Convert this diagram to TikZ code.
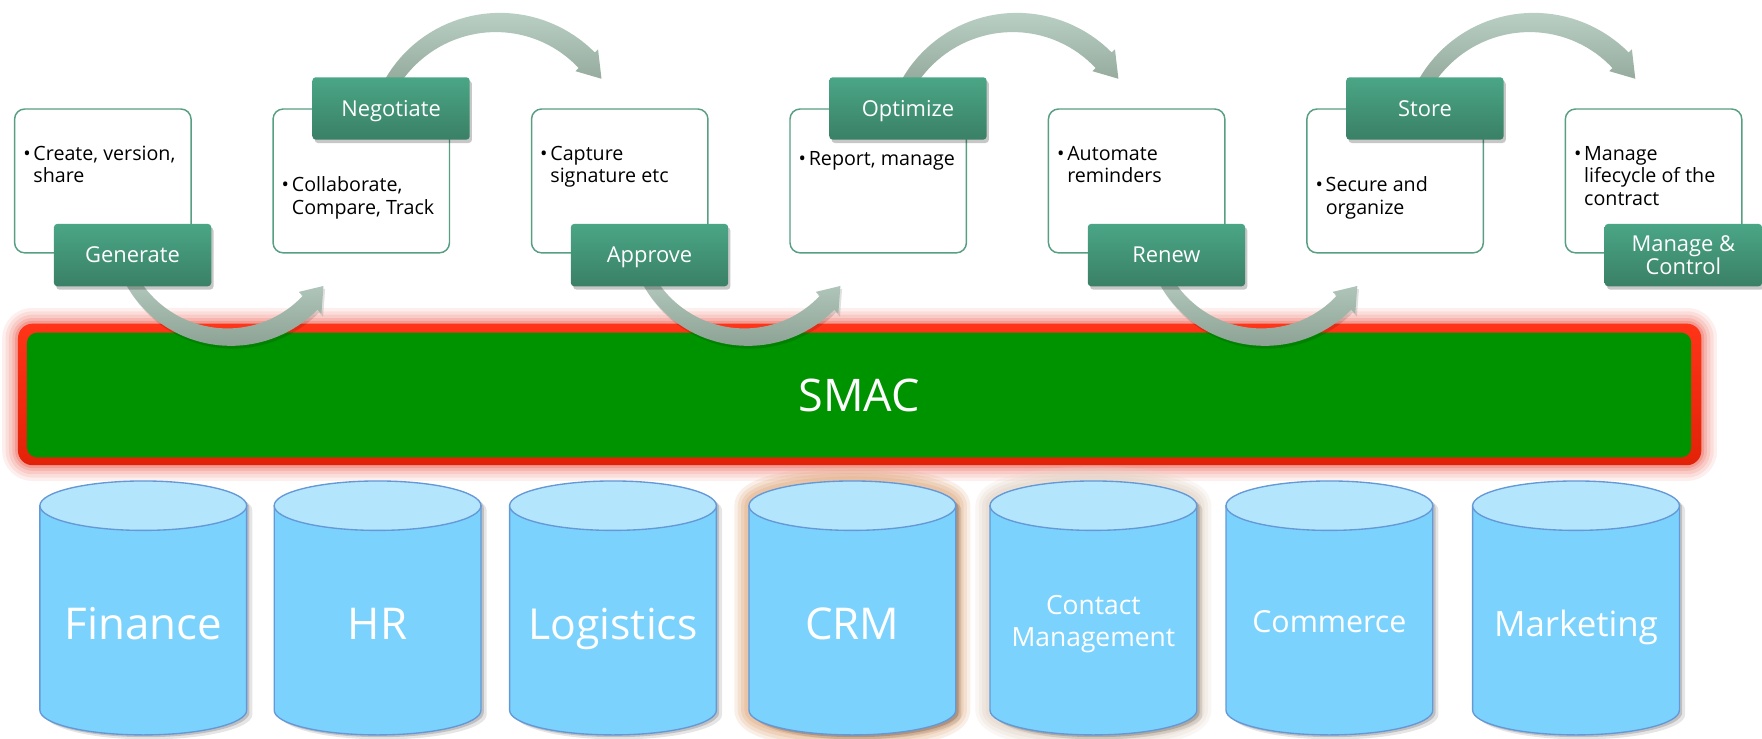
\documentclass[tikz,border=0pt]{standalone}
\usepackage{fontspec}
\setmainfont{Open Sans}
\usetikzlibrary{shadows}

\definecolor{boxline}{RGB}{88,158,130}
\definecolor{tagtop}{RGB}{74,166,134}
\definecolor{tagbot}{RGB}{58,128,102}
\definecolor{arrowlight}{RGB}{186,207,196}
\definecolor{arrowdark}{RGB}{140,162,148}
\definecolor{smacgreen}{RGB}{0,147,0}
\definecolor{smacredtop}{RGB}{255,52,24}
\definecolor{smacredbot}{RGB}{226,34,8}
\definecolor{redglow}{RGB}{236,96,82}
\definecolor{cylbody}{RGB}{123,211,253}
\definecolor{cyltop}{RGB}{179,229,252}
\definecolor{cylline}{RGB}{100,152,215}
\definecolor{crmglow}{RGB}{226,176,136}
\definecolor{contglow}{RGB}{226,212,198}

% lower swoop: from a bottom tag down and up to the next card
\newcommand\swoopdown[1]{%
  \begin{scope}[shift={(#1,-200)}]
    \fill[black,opacity=0.12,shift={(1.5,-2.5)}]
      plot[domain=205:316,samples=40] ({(100+6+3*(\x-205)/111)*cos(\x)},{(100+6+3*(\x-205)/111)*sin(\x)})
      -- (316:114) -- (327:100) -- (316:86)
      -- plot[domain=316:205,samples=40] ({(100-6-3*(\x-205)/111)*cos(\x)},{(100-6-3*(\x-205)/111)*sin(\x)}) -- cycle;
    \shade[top color=arrowlight,bottom color=arrowdark]
      plot[domain=205:316,samples=40] ({(100+6+3*(\x-205)/111)*cos(\x)},{(100+6+3*(\x-205)/111)*sin(\x)})
      -- (316:114) -- (327:100) -- (316:86)
      -- plot[domain=316:205,samples=40] ({(100-6-3*(\x-205)/111)*cos(\x)},{(100-6-3*(\x-205)/111)*sin(\x)}) -- cycle;
  \end{scope}}

% upper swoop: from a top tag over to the next card
\newcommand\swoopup[1]{%
  \begin{scope}[shift={(#1,-130)}]
    \shade[top color=arrowlight,bottom color=arrowdark]
      plot[domain=155:44,samples=40] ({(110+6.5+3.5*(155-\x)/111)*cos(\x)},{(110+6.5+3.5*(155-\x)/111)*sin(\x)})
      -- (44:124) -- (33:110) -- (44:96)
      -- plot[domain=44:155,samples=40] ({(110-6.5-3.5*(155-\x)/111)*cos(\x)},{(110-6.5-3.5*(155-\x)/111)*sin(\x)}) -- cycle;
  \end{scope}}

% soft halo round a cylinder
\newcommand\cylglow[2]{%
  \foreach \w/\o in {26/0.2,20/0.24,14/0.3,8/0.4}
    \draw[#2,line width=\w pt,opacity=\o,line join=round]
      (#1-92,-450) -- (#1-92,-632) arc[start angle=180,end angle=360,x radius=92,y radius=22]
      -- (#1+92,-450) arc[start angle=0,end angle=180,x radius=92,y radius=22] -- cycle;}

% database cylinder centred at x = #1
\newcommand\dbcyl[1]{%
  \foreach \dx/\dy/\o in {5/-4/0.10,2.5/-2/0.16}{
    \fill[black,opacity=\o] (#1-92+\dx,-450+\dy) -- (#1-92+\dx,-632+\dy)
      arc[start angle=180,end angle=360,x radius=92,y radius=22]
      -- (#1+92+\dx,-450+\dy) arc[start angle=0,end angle=180,x radius=92,y radius=22] -- cycle;}
  \filldraw[fill=cylbody,draw=cylline,line width=1.2pt] (#1-92,-450) -- (#1-92,-632)
    arc[start angle=180,end angle=360,x radius=92,y radius=22] -- (#1+92,-450) -- cycle;
  \filldraw[fill=cyltop,draw=cylline,line width=1.2pt] (#1,-450) ellipse[x radius=92,y radius=22];}

\begin{document}
\begin{tikzpicture}[x=1pt,y=1pt,
  card/.style={draw=boxline,line width=1.3pt,fill=white,rounded corners=9pt,
    minimum width=157pt,minimum height=128pt,inner sep=0pt},
  tag/.style={rectangle,rounded corners=3pt,minimum width=140pt,minimum height=55.5pt,
    inner sep=0pt,top color=tagtop,bottom color=tagbot,text=white,
    font=\fontsize{19.5}{21}\selectfont,text height=14pt,text depth=0pt,
    drop shadow={shadow xshift=2pt,shadow yshift=-3pt,opacity=0.22,fill=black}},
  cardtext/.style={anchor=base west,inner sep=0pt,font=\fontsize{17.5}{20}\selectfont,text=black},
  cyllabel/.style={anchor=base,inner sep=0pt,text=white},
]
\useasboundingbox (0,0) rectangle (1568,-657);

% SMAC platform bar with its red frame and glow
\foreach \w/\o in {28/0.10,22/0.12,16/0.15,10/0.2,5/0.3}
  \draw[redglow,line width=\w pt,opacity=\o,rounded corners=13pt] (16,-288) rectangle (1514,-414);
\shade[top color=smacredtop,bottom color=smacredbot,rounded corners=13pt] (16,-288) rectangle (1514,-414);
\node[fill=smacgreen,rounded corners=9pt,minimum width=1481pt,minimum height=111pt,inner sep=0pt,
  text=white,font=\fontsize{40}{44}\selectfont,text height=29pt,text depth=0pt]
  (smac) at (764.5,-351.5) {SMAC};

% curved process arrows
\swoopdown{204}
\swoopdown{664}
\swoopdown{1124}
\swoopup{443}
\swoopup{903}
\swoopup{1363}

% stage cards
\foreach \i/\nm in {0/cgen,1/cneg,2/capp,3/copt,4/cren,5/csto,6/cman}
  \node[card] (\nm) at (91.5+230*\i,-161) {};

% stage tags
\node[tag] (generate) at (118,-227) {Generate};
\node[tag] (negotiate) at (348,-96.5) {Negotiate};
\node[tag] (approve) at (578,-227) {Approve};
\node[tag] (optimize) at (808,-96.5) {Optimize};
\node[tag] (renew) at (1038,-227) {Renew};
\node[tag] (store) at (1268,-96.5) {Store};
\node[tag,text height=35.3pt] (manage) at (1498,-227)
  {\begin{tabular}[b]{@{}c@{}}Manage \&\\Control\end{tabular}};

% card contents
\node[cardtext] (tgen) at (20.5,-142.5)
  {\begin{tabular}[t]{@{}l@{\hspace{2.5pt}}l@{}}\textbullet&Create, version,\\&share\end{tabular}};
\node[cardtext] (tneg) at (250.5,-170.5)
  {\begin{tabular}[t]{@{}l@{\hspace{2.5pt}}l@{}}\textbullet&Collaborate,\\&Compare, Track\end{tabular}};
\node[cardtext] (tapp) at (480.5,-142.5)
  {\begin{tabular}[t]{@{}l@{\hspace{2.5pt}}l@{}}\textbullet&Capture\\&signature etc\end{tabular}};
\node[cardtext] (topt) at (710.5,-147.5)
  {\begin{tabular}[t]{@{}l@{\hspace{2.5pt}}l@{}}\textbullet&Report, manage\end{tabular}};
\node[cardtext] (tren) at (940.5,-142.5)
  {\begin{tabular}[t]{@{}l@{\hspace{2.5pt}}l@{}}\textbullet&Automate\\&reminders\end{tabular}};
\node[cardtext] (tsto) at (1170.5,-170.5)
  {\begin{tabular}[t]{@{}l@{\hspace{2.5pt}}l@{}}\textbullet&Secure and\\&organize\end{tabular}};
\node[cardtext] (tman) at (1400.5,-142.5)
  {\begin{tabular}[t]{@{}l@{\hspace{2.5pt}}l@{}}\textbullet&Manage\\&lifecycle of the\\&contract\end{tabular}};

% back-end systems
\cylglow{758.5}{crmglow}
\cylglow{973}{contglow}
\dbcyl{127.5}
\dbcyl{336}
\dbcyl{545.5}
\dbcyl{758.5}
\dbcyl{973}
\dbcyl{1183}
\dbcyl{1402.5}

\node[cyllabel,font=\fontsize{39}{44}\selectfont] (finance) at (127.5,-569) {Finance};
\node[cyllabel,font=\fontsize{39}{44}\selectfont] (hr) at (336,-569) {HR};
\node[cyllabel,font=\fontsize{38}{44}\selectfont] (logistics) at (545.5,-569) {Logistics};
\node[cyllabel,font=\fontsize{39}{44}\selectfont] (crm) at (758.5,-569) {CRM};
\node[cyllabel,font=\fontsize{23.5}{29}\selectfont] (contact) at (973,-546.4)
  {\begin{tabular}[t]{@{}c@{}}Contact\\Management\end{tabular}};
\node[cyllabel,font=\fontsize{27}{30}\selectfont] (commerce) at (1183,-562.6) {Commerce};
\node[cyllabel,font=\fontsize{31}{34}\selectfont] (marketing) at (1402.5,-566) {Marketing};
\end{tikzpicture}
\end{document}
